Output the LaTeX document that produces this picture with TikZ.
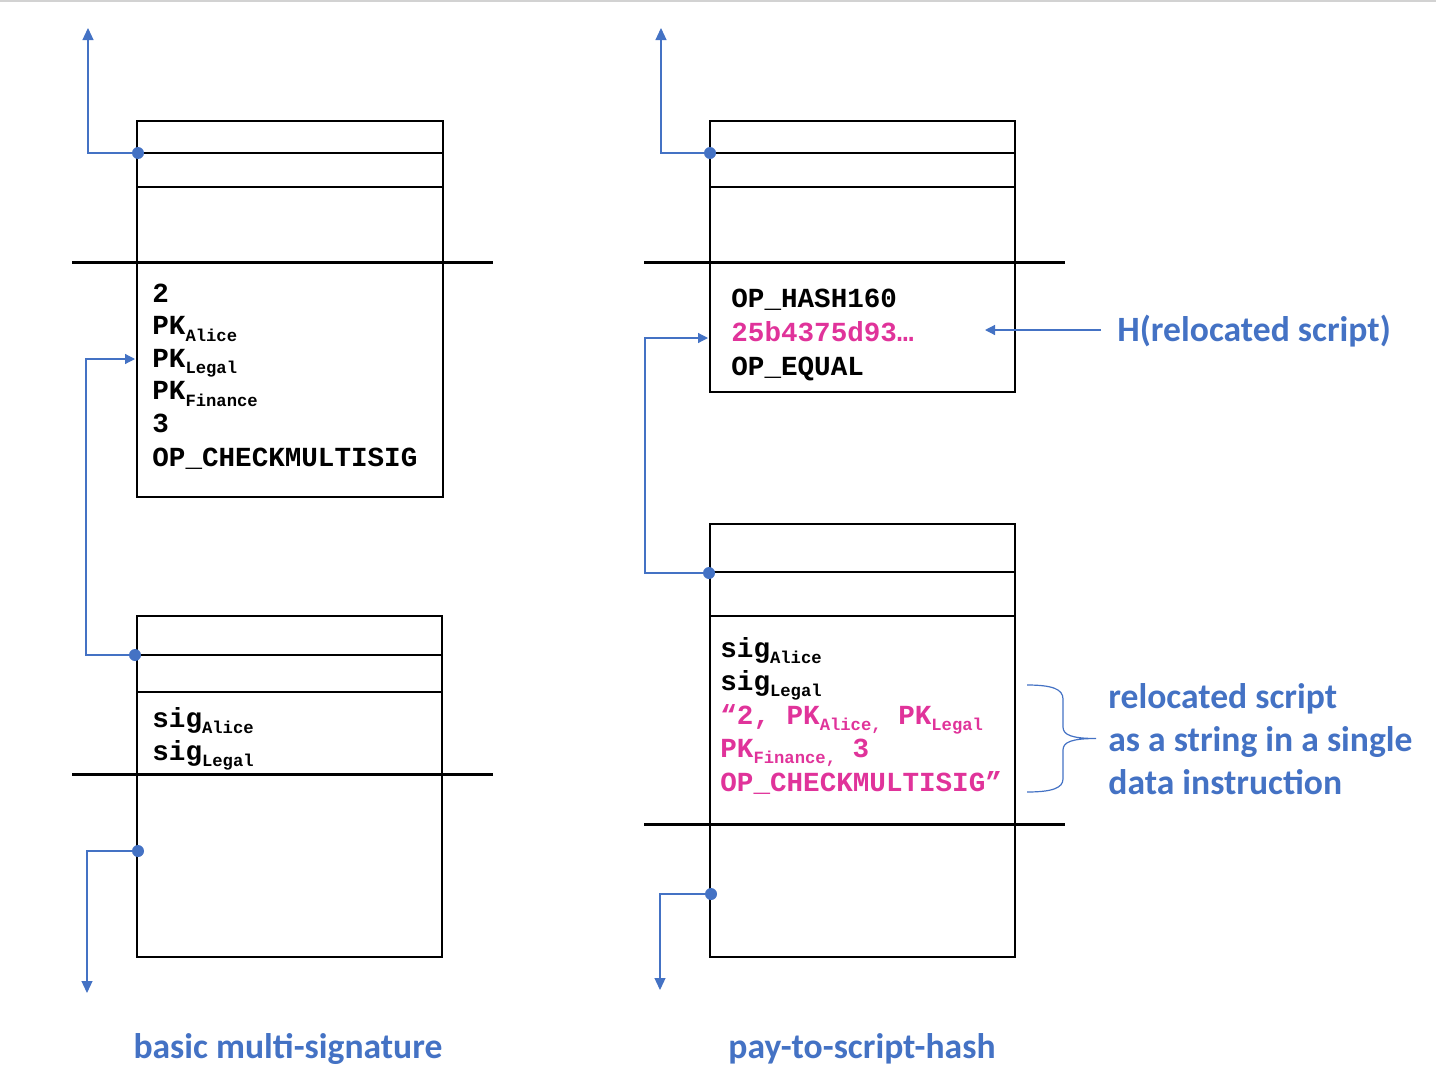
\documentclass[tikz,border=0pt]{standalone}
\usepackage{fontspec}
\usetikzlibrary{arrows.meta}
\newfontfamily\monofam{Liberation Mono}
\newfontfamily\calfam{Carlito}
\definecolor{lineblue}{HTML}{4472C4}
\definecolor{textblue}{HTML}{4472C4}
\definecolor{pinktext}{HTML}{E0339A}
\newcommand\mt{\monofam\bfseries\fontsize{13.8}{16}\selectfont}
\newcommand\sbs[1]{\raisebox{-3.3pt}{\fontsize{8.6}{10}\selectfont #1}}
\newcommand\bl{\calfam\bfseries\fontsize{17.8}{20}\selectfont}
\tikzset{
  x=0.5pt, y=-0.5pt,
  boxline/.style={draw=black, line width=1pt},
  slotline/.style={draw=black, line width=0.6pt},
  baseline line/.style={draw=black, line width=1.5pt},
  conn/.style={draw=lineblue, line width=0.6pt},
  bigtip/.style={-{Triangle[length=6pt,width=5.5pt]}},
  smalltip/.style={-{Triangle[length=5pt,width=5pt]}},
  dot/.style={fill=lineblue},
  code/.style={anchor=base west, inner sep=0pt, font=\mt},
  lbl/.style={inner sep=0pt, text=textblue, font=\bl},
}
\begin{document}
\begin{tikzpicture}
\useasboundingbox (0,0) rectangle (1436,1092);
\draw[gray!35, line width=1pt] (0,1) -- (1436,1);

% ---------- left column: basic multi-signature ----------
% top box (locking)
\draw[boxline] (137,121) rectangle (443,497);
\draw[slotline] (137,153) -- (443,153);
\draw[slotline] (137,187) -- (443,187);
\draw[baseline line] (72,262) -- (493,262);
\node[code] (l1) at (152,302) {2};
\node[code] (l2) at (152,334.5) {PK\sbs{Alice}};
\node[code] (l3) at (152,367) {PK\sbs{Legal}};
\node[code] (l4) at (152,399.5) {PK\sbs{Finance}};
\node[code] (l5) at (152,432) {3};
\node[code] (l6) at (152,466) {OP\_CHECKMULTISIG};

% bottom box (spending)
\draw[boxline] (137,616) rectangle (442,957);
\draw[slotline] (137,655) -- (442,655);
\draw[slotline] (137,692) -- (442,692);
\draw[baseline line] (72,774) -- (493,774);
\node[code] (s1) at (152,727) {sig\sbs{Alice}};
\node[code] (s2) at (152,760) {sig\sbs{Legal}};

% connectors left
\coordinate (dTL) at (138,153);
\coordinate (uTL) at (88,28);
\fill[dot] (dTL) circle[radius=6];
\draw[conn, bigtip] (dTL) -| (uTL);

\coordinate (dBL) at (135,655);
\coordinate (inTL) at (135,359);
\fill[dot] (dBL) circle[radius=6];
\draw[conn, smalltip] (dBL) -- (86,655) |- (inTL);

\coordinate (dBL2) at (138,851);
\coordinate (downL) at (87,993);
\fill[dot] (dBL2) circle[radius=6];
\draw[conn, bigtip] (dBL2) -| (downL);

% ---------- right column: pay-to-script-hash ----------
\draw[boxline] (710,121) rectangle (1015,392);
\draw[slotline] (710,153) -- (1015,153);
\draw[slotline] (710,187) -- (1015,187);
\draw[baseline line] (644,262) -- (1065,262);
\node[code] (r1) at (731,307) {OP\_HASH160};
\node[code, text=pinktext] (r2) at (731,341) {25b4375d93\ldots};
\node[code] (r3) at (731,375) {OP\_EQUAL};

\draw[boxline] (710,524) rectangle (1015,957);
\draw[slotline] (710,572) -- (1015,572);
\draw[slotline] (710,616) -- (1015,616);
\draw[baseline line] (644,824) -- (1065,824);
\node[code] (t1) at (720,657) {sig\sbs{Alice}};
\node[code] (t2) at (720,690) {sig\sbs{Legal}};
\node[code, text=pinktext] (t3) at (720,724) {“2, PK\sbs{Alice,} PK\sbs{Legal}};
\node[code, text=pinktext] (t4) at (720,757) {PK\sbs{Finance,} 3};
\node[code, text=pinktext] (t5) at (720,791) {OP\_CHECKMULTISIG”};

\coordinate (dTR) at (710,153);
\coordinate (uTR) at (661,28);
\fill[dot] (dTR) circle[radius=6];
\draw[conn, bigtip] (dTR) -| (uTR);

\coordinate (dBR) at (709,573);
\coordinate (inTR) at (708,338);
\fill[dot] (dBR) circle[radius=6];
\draw[conn, smalltip] (dBR) -- (645,573) |- (inTR);

\coordinate (dBR2) at (711,894);
\coordinate (downR) at (660,990);
\fill[dot] (dBR2) circle[radius=6];
\draw[conn, bigtip] (dBR2) -| (downR);

% hash label
\node[lbl, anchor=base west] (hlab) at (1117,341) {H(relocated script)};
\coordinate (hend) at (985,330);
\draw[conn, smalltip] (1101,330) -- (hend);

% brace
\draw[conn] (1027,685) .. controls (1052,685) and (1063,689) .. (1063,699)
  -- (1063,727) .. controls (1063,735) and (1072,738.5) .. (1096,738.5)
  .. controls (1072,738.5) and (1063,742) .. (1063,750)
  -- (1063,779) .. controls (1063,788) and (1052,792) .. (1027,792);
\node[lbl, anchor=base west] (b1) at (1108,708) {relocated script};
\node[lbl, anchor=base west] (b2) at (1108,751) {as a string in a single};
\node[lbl, anchor=base west] (b3) at (1108,794) {data instruction};

% captions
\node[lbl, anchor=base] (capL) at (288,1058) {basic multi-signature};
\node[lbl, anchor=base] (capR) at (862,1058) {pay-to-script-hash};
\end{tikzpicture}
\end{document}
